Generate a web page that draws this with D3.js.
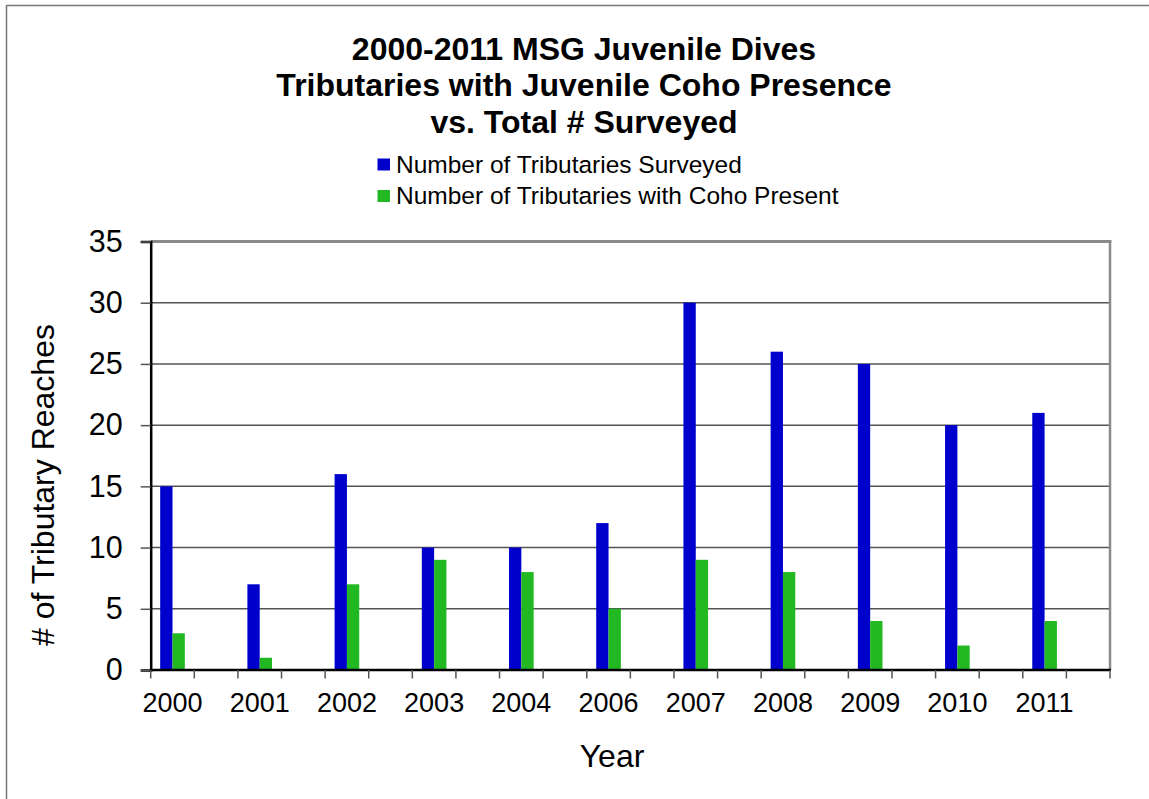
<!DOCTYPE html>
<html>
<head>
<meta charset="utf-8">
<script src="https://cdn.jsdelivr.net/npm/d3@7"></script>
<style>
  html, body { margin: 0; padding: 0; background: #fff; }
  svg { display: block; font-family: "Liberation Sans", Arial, sans-serif; }
</style>
</head>
<body>
<svg id="chart" width="1149" height="799"></svg>
<script>
// Survey years and counts per year
const years = ["2000", "2001", "2002", "2003", "2004", "2006", "2007", "2008", "2009", "2010", "2011"];
const surveyed = [15, 7, 16, 10, 10, 12, 30, 26, 25, 20, 21];
const cohoPresent = [3, 1, 7, 9, 8, 5, 9, 8, 4, 2, 4];
const seriesNames = ["Number of Tributaries Surveyed", "Number of Tributaries with Coho Present"];
const seriesColors = ["#0000cc", "#21b821"];
const yTicks = [0, 5, 10, 15, 20, 25, 30, 35];
const titleLines = ["2000-2011 MSG Juvenile Dives", "Tributaries with Juvenile Coho Presence", "vs. Total # Surveyed"];

const svg = d3.select("#chart");
const plot = { left: 150.7, right: 1110, top: 241.5, bottom: 670 };

// Outer frame (top and left edges visible)
svg.append("line").attr("x1", 6).attr("y1", 5.5).attr("x2", 1149).attr("y2", 5.5)
  .attr("stroke", "#777").attr("stroke-width", 1.5);
svg.append("line").attr("x1", 6.5).attr("y1", 5).attr("x2", 6.5).attr("y2", 799)
  .attr("stroke", "#777").attr("stroke-width", 1.5);

// Each year is followed by an empty slot on the category axis
const slots = [];
years.forEach(y => { slots.push(y); slots.push(y + "_gap"); });

const x0 = d3.scaleBand().domain(slots).range([plot.left, plot.right]).padding(0);
const x1 = d3.scaleBand().domain([0, 1]).range([0, x0.bandwidth()]).paddingInner(0).paddingOuter(0.77);
const y = d3.scaleLinear().domain([0, 35]).range([plot.bottom, plot.top]);

// Horizontal gridlines
svg.append("g").selectAll("line").data(yTicks.filter(t => t > 0 && t < 35)).join("line")
  .attr("x1", plot.left).attr("x2", plot.right)
  .attr("y1", d => y(d)).attr("y2", d => y(d))
  .attr("stroke", "#555").attr("stroke-width", 1.5);

// Plot frame: top and right in gray
svg.append("line").attr("x1", plot.left).attr("x2", plot.right + 1.5)
  .attr("y1", plot.top).attr("y2", plot.top).attr("stroke", "#8a8a8a").attr("stroke-width", 3);
svg.append("line").attr("x1", plot.right).attr("x2", plot.right)
  .attr("y1", plot.top).attr("y2", plot.bottom).attr("stroke", "#8a8a8a").attr("stroke-width", 2.5);

// Bars
const rows = years.map((yr, i) => ({ year: yr, values: [surveyed[i], cohoPresent[i]] }));
const groups = svg.append("g").selectAll("g").data(rows).join("g")
  .attr("transform", d => `translate(${x0(d.year)},0)`);
groups.selectAll("rect").data(d => d.values.map((v, k) => ({ k, v }))).join("rect")
  .attr("x", d => x1(d.k))
  .attr("width", x1.bandwidth())
  .attr("y", d => y(d.v))
  .attr("height", d => y(0) - y(d.v))
  .attr("fill", d => seriesColors[d.k]);

// Y axis
const yAxis = d3.axisLeft(y).tickValues(yTicks).tickSize(10).tickPadding(18);
const gy = svg.append("g").attr("transform", `translate(${plot.left},0)`).call(yAxis);
gy.select(".domain").attr("stroke", "#000").attr("stroke-width", 2.5);
gy.selectAll(".tick line").attr("stroke", "#555").attr("stroke-width", 1.5);
gy.selectAll("text").attr("font-size", 30.5).attr("fill", "#000")
  .attr("font-family", "'Liberation Sans', Arial, sans-serif");

// X axis: ticks at slot boundaries, labels under each year
const gx = svg.append("g").attr("transform", `translate(0,${plot.bottom})`);
gx.append("line").attr("x1", plot.left - 1).attr("x2", plot.right + 1)
  .attr("y1", 0).attr("y2", 0).attr("stroke", "#000").attr("stroke-width", 2.5);
const bounds = slots.map(s => x0(s)).concat([plot.right]);
gx.selectAll("line.tick").data(bounds).join("line").attr("class", "tick")
  .attr("x1", d => d).attr("x2", d => d).attr("y1", 0).attr("y2", 8.5)
  .attr("stroke", "#555").attr("stroke-width", 1.5);
gx.selectAll("text").data(years).join("text")
  .attr("x", d => x0(d) + x0.bandwidth() / 2)
  .attr("y", 42.3)
  .attr("text-anchor", "middle")
  .attr("font-size", 27)
  .attr("fill", "#000")
  .text(d => d);

// Axis titles
svg.append("text").attr("x", 612).attr("y", 767).attr("text-anchor", "middle")
  .attr("font-size", 32).text("Year");
svg.append("text").attr("transform", "translate(54,485) rotate(-90)")
  .attr("text-anchor", "middle").attr("font-size", 32).text("# of Tributary Reaches");

// Chart title
svg.append("g").selectAll("text").data(titleLines).join("text")
  .attr("x", 584).attr("y", (d, i) => 60 + i * 36.3)
  .attr("text-anchor", "middle").attr("font-weight", "bold").attr("font-size", 32)
  .text(d => d);

// Legend
const legend = svg.append("g").selectAll("g").data(seriesNames).join("g")
  .attr("transform", (d, i) => `translate(377.5,${158.5 + i * 31.5})`);
legend.append("rect").attr("width", 12.5).attr("height", 12).attr("fill", (d, i) => seriesColors[i]);
legend.append("text").attr("x", 18.5).attr("y", 14).attr("font-size", 24.5).text(d => d);
</script>
</body>
</html>
